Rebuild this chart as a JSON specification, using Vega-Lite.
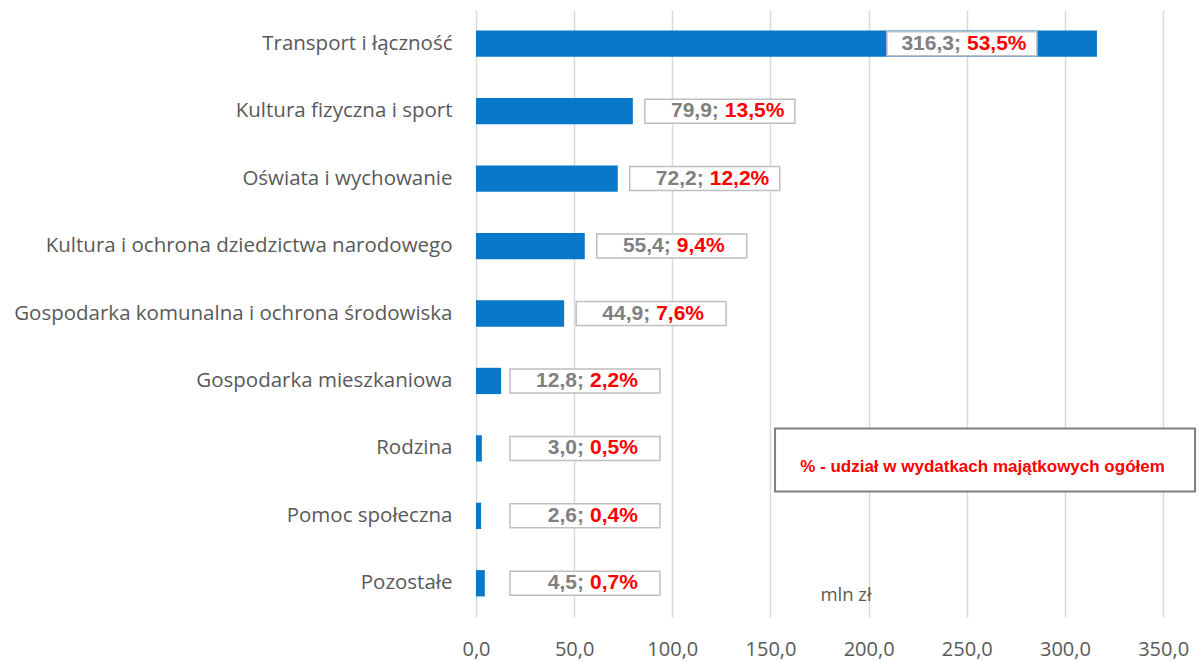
{
  "$schema": "https://vega.github.io/schema/vega-lite/v6.json",
  "width": 714,
  "height": 607,
  "autosize": {"type": "none"},
  "padding": {"left": 476, "top": 10, "right": 8, "bottom": 44},
  "background": "white",
  "config": {
    "view": {"stroke": null},
    "font": "Open Sans"
  },
  "data": {
    "values": [
      {"category": "Transport i łączność", "value": 316.3, "share": 53.5},
      {"category": "Kultura fizyczna i sport", "value": 79.9, "share": 13.5},
      {"category": "Oświata i wychowanie", "value": 72.2, "share": 12.2},
      {"category": "Kultura i ochrona dziedzictwa narodowego", "value": 55.4, "share": 9.4},
      {"category": "Gospodarka komunalna i ochrona środowiska", "value": 44.9, "share": 7.6},
      {"category": "Gospodarka mieszkaniowa", "value": 12.8, "share": 2.2},
      {"category": "Rodzina", "value": 3.0, "share": 0.5},
      {"category": "Pomoc społeczna", "value": 2.6, "share": 0.4},
      {"category": "Pozostałe", "value": 4.5, "share": 0.7}
    ]
  },
  "encoding": {
    "y": {
      "field": "category", "type": "nominal", "sort": null,
      "scale": {"paddingInner": 0.61, "paddingOuter": 0.305},
      "axis": {
        "title": null, "domain": false, "ticks": false, "grid": false,
        "labelPadding": 24, "labelFontSize": 20.5, "labelColor": "#595959",
        "labelFont": "Open Sans", "labelLimit": 480
      }
    },
    "x": {
      "field": "value", "type": "quantitative",
      "scale": {"domain": [0, 363.7], "nice": false, "zero": true},
      "axis": {
        "title": null, "domain": false, "ticks": false, "grid": true,
        "gridColor": "#d9d9d9", "gridWidth": 1.5,
        "values": [0, 50, 100, 150, 200, 250, 300, 350],
        "labelExpr": "replace(format(datum.value, '.1f'), '.', ',')",
        "labelFontSize": 20, "labelColor": "#595959", "labelFont": "Open Sans",
        "labelPadding": 22, "labelFlush": false
      }
    }
  },
  "layer": [
    {"mark": {"type": "bar", "color": "#0a78c8", "cornerRadius": 0}},
    {
      "transform": [{"filter": "datum.value > 200"}],
      "layer": [
        {"mark": {"type": "point", "shape": "M-6.25,-1H6.25V1H-6.25Z", "size": 576, "filled": true, "fill": "white", "stroke": "#bfbfbf", "strokeWidth": 1.5, "opacity": 1, "xOffset": -135}},
        {"mark": {"type": "text", "text": {"expr": "replace(format(datum.value, '.1f'), '.', ',') + ';'"}, "xOffset": -135, "dx": -1, "align": "right", "baseline": "middle", "font": "Liberation Sans", "fontWeight": "bold", "fontSize": 21, "fill": "#808080"}},
        {"mark": {"type": "text", "text": {"expr": "replace(format(datum.share, '.1f'), '.', ',') + '%'"}, "xOffset": -135, "dx": 5, "align": "left", "baseline": "middle", "font": "Liberation Sans", "fontWeight": "bold", "fontSize": 21, "fill": "#ff0000"}}
      ]
    },
    {
      "transform": [{"filter": "datum.value > 20 && datum.value <= 200"}],
      "layer": [
        {"mark": {"type": "point", "shape": "M-6.25,-1H6.25V1H-6.25Z", "size": 576, "filled": true, "fill": "white", "stroke": "#bfbfbf", "strokeWidth": 1.5, "opacity": 1, "xOffset": 87}},
        {"mark": {"type": "text", "text": {"expr": "replace(format(datum.value, '.1f'), '.', ',') + ';'"}, "xOffset": 87, "dx": -1, "align": "right", "baseline": "middle", "font": "Liberation Sans", "fontWeight": "bold", "fontSize": 21, "fill": "#808080"}},
        {"mark": {"type": "text", "text": {"expr": "replace(format(datum.share, '.1f'), '.', ',') + '%'"}, "xOffset": 87, "dx": 5, "align": "left", "baseline": "middle", "font": "Liberation Sans", "fontWeight": "bold", "fontSize": 21, "fill": "#ff0000"}}
      ]
    },
    {
      "transform": [{"filter": "datum.value <= 20"}],
      "encoding": {"x": {"datum": 55.5, "type": "quantitative"}},
      "layer": [
        {"mark": {"type": "point", "shape": "M-6.25,-1H6.25V1H-6.25Z", "size": 576, "filled": true, "fill": "white", "stroke": "#bfbfbf", "strokeWidth": 1.5, "opacity": 1}},
        {"mark": {"type": "text", "text": {"expr": "replace(format(datum.value, '.1f'), '.', ',') + ';'"}, "dx": -1, "align": "right", "baseline": "middle", "font": "Liberation Sans", "fontWeight": "bold", "fontSize": 21, "fill": "#808080"}},
        {"mark": {"type": "text", "text": {"expr": "replace(format(datum.share, '.1f'), '.', ',') + '%'"}, "dx": 5, "align": "left", "baseline": "middle", "font": "Liberation Sans", "fontWeight": "bold", "fontSize": 21, "fill": "#ff0000"}}
      ]
    },
    {
      "transform": [{"filter": "datum.category === 'Rodzina'"}],
      "layer": [
        {
          "mark": {"type": "point", "shape": "M-6.667,-1H6.667V1H-6.667Z", "size": 3969, "filled": true, "fill": "white", "stroke": "#7f7f7f", "strokeWidth": 2, "opacity": 1, "yOffset": 11.5},
          "encoding": {"x": {"datum": 259.3, "type": "quantitative"}}
        },
        {
          "mark": {"type": "text", "text": "% - udział w wydatkach majątkowych ogółem", "align": "center", "baseline": "middle", "yOffset": 18.5, "font": "Liberation Sans", "fontWeight": "bold", "fontSize": 17, "fill": "#ff0000"},
          "encoding": {"x": {"datum": 258, "type": "quantitative"}}
        }
      ]
    },
    {
      "transform": [{"filter": "datum.category === 'Pozostałe'"}],
      "mark": {"type": "text", "text": "mln zł", "align": "center", "baseline": "middle", "yOffset": 12, "font": "Open Sans", "fontSize": 18.5, "fill": "#595959"},
      "encoding": {"x": {"datum": 188.5, "type": "quantitative"}}
    }
  ]
}
